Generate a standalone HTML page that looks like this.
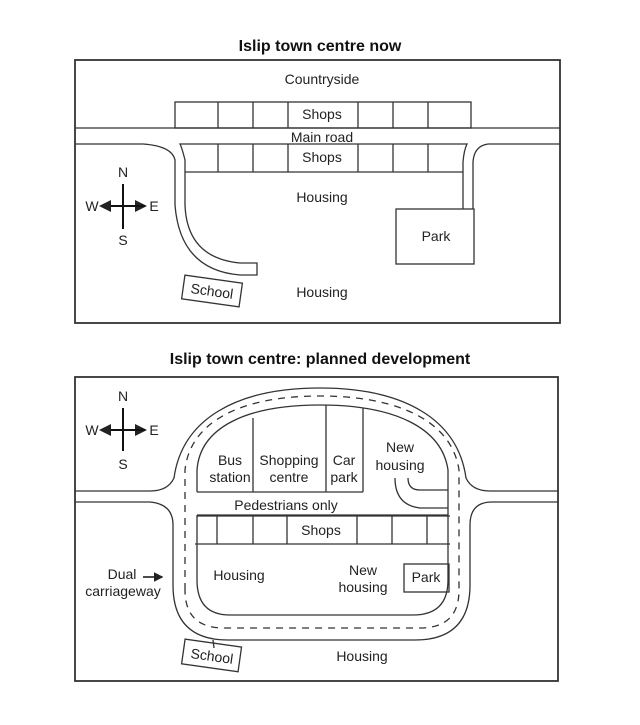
<!DOCTYPE html>
<html><head><meta charset="utf-8"><style>
html,body{margin:0;padding:0;background:#fff;}
svg{display:block;}
text{font-family:"Liberation Sans",Arial,sans-serif;font-size:14px;fill:#222;text-anchor:middle;}
.t{font-weight:bold;font-size:16px;fill:#111;}
</style></head><body>
<svg width="640" height="725" viewBox="0 0 640 725" xmlns="http://www.w3.org/2000/svg">
<defs>
<marker id="ah" markerWidth="6" markerHeight="6" refX="5" refY="3" orient="auto"><path d="M0,0 L6,3 L0,6 Z" fill="#222"/></marker>
</defs>
<g fill="none" stroke="#333" stroke-width="1.3">
<!-- TOP MAP -->
<rect x="75" y="60" width="485" height="263" stroke-width="1.8"/>
<!-- top shops -->
<rect x="175" y="102" width="296" height="26"/>
<path d="M218,102V128M253,102V128M288,102V128M358,102V128M393,102V128M428,102V128"/>
<!-- main road -->
<path d="M75,128H560"/>
<path d="M75,144H143 Q172,146 175,160 V205 Q180,270 240,275 H257 V263 H240 Q187,258 185,205 V160 Q182,148 180,144 H467 Q464,150 463,162 V209"/>
<path d="M560,144H488 Q474,146 473,162 V209"/>
<!-- bottom shops -->
<path d="M185,172H463"/>
<path d="M218,144V172M253,144V172M288,144V172M358,144V172M393,144V172M428,144V172"/>
<rect x="396" y="209" width="78" height="55"/>
<!-- compass top -->
<path d="M123,184V229M101,206H145" stroke="#111" stroke-width="2" marker-end="url(#ah)"/>
<path d="M123,229V184M145,206H101" stroke="#111" stroke-width="2" marker-end="url(#ah)"/>
<rect x="183" y="279" width="58" height="24" transform="rotate(8 212 291)"/>

<!-- BOTTOM MAP -->
<rect x="75" y="377" width="483" height="304" stroke-width="1.8"/>
<!-- outer ring upper -->
<path d="M75,491 H150 Q168,491 174,478 C182,420 235,388 320,388 C405,388 458,420 466,478 Q472,491 490,491 H558"/>
<path d="M75,502 H150 Q173,504 173,525 V585 Q173,640 228,640 H415 Q470,640 470,585 V525 Q470,502 492,502 H558"/>
<!-- inner -->
<path d="M197,492 V470 C200,428 245,405 320,405 C395,405 442,428 448,470 V580 Q448,615 413,615 H230 Q197,615 197,580 V515"/>
<!-- dashed -->
<path d="M185,590 V470 C190,422 240,396 320,396 C400,396 452,422 459,470 V590 Q459,628 420,628 H224 Q185,628 185,590" stroke-dasharray="7,6"/>
<!-- buildings -->
<path d="M197,492 H363 M253,418 V492 M326,405 V492 M363,408 V492"/>
<path d="M395,478 Q395,505 420,508 H448 M408,478 Q408,490 420,490 H448"/>
<path d="M197,515 H448 M197,516 H450 M195,544 H450"/>
<path d="M217,516V544M253,516V544M287,516V544M357,516V544M392,516V544M427,516V544"/>
<rect x="404" y="564" width="45" height="28"/>
<!-- compass bottom -->
<path d="M123,408V451M101,430H145" stroke="#111" stroke-width="2" marker-end="url(#ah)"/>
<path d="M123,451V408M145,430H101" stroke="#111" stroke-width="2" marker-end="url(#ah)"/>
<path d="M143,577H162" stroke="#111" stroke-width="1.6" marker-end="url(#ah)"/>
<rect x="183" y="643" width="57" height="25" transform="rotate(8 212 656)"/>
<path d="M213,640 L214,648"/>
</g>
<text class="t" x="320" y="51">Islip town centre now</text>
<text x="322" y="84">Countryside</text>
<text x="322" y="119">Shops</text>
<text x="322" y="142">Main road</text>
<text x="322" y="162">Shops</text>
<text x="322" y="202">Housing</text>
<text x="436" y="241">Park</text>
<text x="322" y="297">Housing</text>
<text x="212" y="296" transform="rotate(8 212 291)">School</text>
<text x="123" y="177" font-size="12">N</text>
<text x="123" y="245" font-size="12">S</text>
<text x="92" y="211" font-size="12">W</text>
<text x="154" y="211" font-size="12">E</text>

<text class="t" x="320" y="364">Islip town centre: planned development</text>
<text x="123" y="401" font-size="12">N</text>
<text x="123" y="469" font-size="12">S</text>
<text x="92" y="435" font-size="12">W</text>
<text x="154" y="435" font-size="12">E</text>
<text x="230" y="465">Bus</text>
<text x="230" y="482">station</text>
<text x="289" y="465">Shopping</text>
<text x="289" y="482">centre</text>
<text x="344" y="465">Car</text>
<text x="344" y="482">park</text>
<text x="400" y="452">New</text>
<text x="400" y="470">housing</text>
<text x="286" y="510">Pedestrians only</text>
<text x="321" y="535">Shops</text>
<text x="239" y="580">Housing</text>
<text x="363" y="575">New</text>
<text x="363" y="592">housing</text>
<text x="426" y="582">Park</text>
<text x="122" y="579">Dual</text>
<text x="123" y="596">carriageway</text>
<text x="212" y="661" transform="rotate(8 212 656)">School</text>
<text x="362" y="661">Housing</text>
</svg>
</body></html>
